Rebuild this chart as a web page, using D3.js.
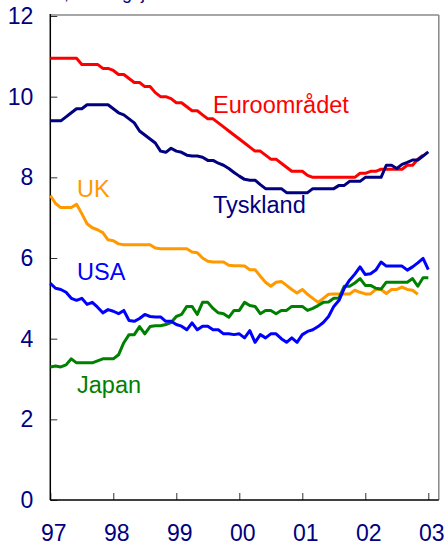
<!DOCTYPE html>
<html>
<head>
<meta charset="utf-8">
<script src="https://cdn.jsdelivr.net/npm/d3@7"></script>
<style>
  body { margin: 0; background: #fff; }
  svg { font-family: "Liberation Sans", Arial, sans-serif; }
  .axis text { fill: #000080; font-size: 23px; }
  .axis line { stroke: #333; }
  .label { font-size: 23.5px; }
</style>
</head>
<body>
<svg id="chart" width="445" height="545"></svg>
<script>
// monthly unemployment, procent, jan 1997 -> early 2003 (index = month since jan 97)
const yearTicks = ["97", "98", "99", "00", "01", "02", "03"];
const yTicks = [0, 2, 4, 6, 8, 10, 12];

const euro = [10.95, 10.95, 10.95, 10.95, 10.95, 10.95, 10.8, 10.8, 10.8, 10.8, 10.7, 10.7,
  10.65, 10.55, 10.55, 10.45, 10.35, 10.35, 10.25, 10.25, 10.1, 10.0, 10.0, 9.95,
  9.85, 9.85, 9.75, 9.65, 9.65, 9.55, 9.45, 9.45, 9.35, 9.25, 9.15, 9.05,
  8.95, 8.85, 8.75, 8.65, 8.65, 8.55, 8.45, 8.45, 8.35, 8.25, 8.15, 8.15,
  8.15, 8.05, 8.0, 8.0, 8.0, 8.0, 8.0, 8.0, 8.0, 8.0, 8.0, 8.1,
  8.1, 8.15, 8.15, 8.2, 8.2, 8.2, 8.2, 8.2, 8.3, 8.3, 8.45, 8.55];

const tyskland = [9.4, 9.4, 9.4, 9.5, 9.6, 9.7, 9.7, 9.8, 9.8, 9.8, 9.8, 9.8,
  9.7, 9.6, 9.55, 9.45, 9.35, 9.15, 9.05, 8.95, 8.85, 8.65, 8.62, 8.72,
  8.65, 8.62, 8.55, 8.53, 8.53, 8.5, 8.42, 8.42, 8.35, 8.3, 8.22, 8.12,
  8.03, 7.95, 7.93, 7.93, 7.82, 7.72, 7.72, 7.72, 7.72, 7.62, 7.62, 7.62,
  7.62, 7.62, 7.72, 7.72, 7.72, 7.72, 7.72, 7.8, 7.8, 7.9, 7.9, 7.9,
  8.0, 8.0, 8.0, 8.0, 8.3, 8.3, 8.22, 8.32, 8.37, 8.43, 8.43, 8.53, 8.63];

const uk = [7.55, 7.35, 7.25, 7.25, 7.25, 7.33, 7.1, 6.85, 6.75, 6.7, 6.63, 6.45,
  6.43, 6.35, 6.33, 6.33, 6.33, 6.33, 6.33, 6.33, 6.25, 6.23, 6.23, 6.23,
  6.23, 6.23, 6.23, 6.15, 6.13, 6.0, 5.92, 5.9, 5.9, 5.9, 5.82, 5.81,
  5.81, 5.8, 5.71, 5.71, 5.55, 5.4, 5.3, 5.4, 5.42, 5.32, 5.22, 5.13,
  5.22, 5.1, 5.0, 4.9, 5.0, 5.1, 5.11, 5.11, 5.11, 5.11, 5.2, 5.15,
  5.11, 5.11, 5.22, 5.22, 5.12, 5.22, 5.22, 5.28, 5.22, 5.2, 5.1];

const usa = [5.37, 5.25, 5.22, 5.15, 5.0, 4.95, 5.0, 4.85, 4.9, 4.78, 4.64, 4.72,
  4.68, 4.62, 4.7, 4.45, 4.43, 4.5, 4.6, 4.55, 4.54, 4.54, 4.43, 4.43,
  4.35, 4.31, 4.22, 4.39, 4.22, 4.31, 4.31, 4.22, 4.22, 4.12, 4.12, 4.1,
  4.12, 4.02, 4.2, 3.91, 4.1, 4.02, 4.12, 4.12, 4.0, 3.91, 4.02, 3.91,
  4.1, 4.18, 4.22, 4.3, 4.4, 4.55, 4.8, 4.95, 5.25, 5.45, 5.6, 5.78,
  5.59, 5.61, 5.7, 5.9, 5.8, 5.8, 5.8, 5.8, 5.7, 5.78, 5.88, 5.99, 5.71];

const japan = [3.3, 3.32, 3.3, 3.35, 3.5, 3.4, 3.4, 3.4, 3.4, 3.45, 3.5, 3.5,
  3.5, 3.6, 3.9, 4.1, 4.1, 4.3, 4.12, 4.3, 4.32, 4.32, 4.35, 4.4,
  4.55, 4.6, 4.8, 4.8, 4.6, 4.9, 4.9, 4.75, 4.64, 4.62, 4.53, 4.7,
  4.7, 4.9, 4.82, 4.8, 4.62, 4.7, 4.7, 4.62, 4.7, 4.7, 4.8, 4.8,
  4.8, 4.7, 4.75, 4.82, 4.9, 4.91, 5.0, 5.01, 5.3, 5.3, 5.38, 5.49,
  5.32, 5.32, 5.25, 5.23, 5.4, 5.4, 5.4, 5.4, 5.4, 5.49, 5.3, 5.51, 5.51];

const series = [
  { name: "UK", values: uk, color: "#ff9900", lx: 77, ly: 197 },
  { name: "Japan", values: japan, color: "#008000", lx: 77, ly: 393 },
  { name: "USA", values: usa, color: "#0000ff", lx: 77, ly: 280 },
  { name: "Euroområdet", values: euro, color: "#ff0000", lx: 213, ly: 113 },
  { name: "Tyskland", values: tyskland, color: "#000080", lx: 213, ly: 213 }
];

const dimension = { left: 50.3, right: 438.8, top: 16, bottom: 500 };

const x = d3.scaleLinear().domain([0, 74]).range([dimension.left, dimension.right]);
const y = d3.scaleLinear().domain([0, 12]).range([dimension.bottom, dimension.top]);

const svg = d3.select("#chart");

// unit title, cut off at the top edge like in the source
svg.append("text")
    .attr("x", 2)
    .attr("y", -1)
    .attr("fill", "#000080")
    .attr("font-size", 18)
    .text("Procent, säsongsjusterat");

// frame: grey top/right, black left/bottom
svg.append("line")
    .attr("x1", dimension.left).attr("x2", dimension.right)
    .attr("y1", dimension.top - 1).attr("y2", dimension.top - 1)
    .attr("stroke", "#888").attr("stroke-width", 1.5);
svg.append("line")
    .attr("x1", dimension.right).attr("x2", dimension.right)
    .attr("y1", dimension.top - 1).attr("y2", dimension.bottom)
    .attr("stroke", "#888").attr("stroke-width", 1.5);

// axes
const yAxis = d3.axisLeft(y)
    .tickValues(yTicks)
    .tickSizeInner(-7)
    .tickSizeOuter(0)
    .tickPadding(17)
    .tickFormat(d3.format("d"));

svg.append("g")
    .attr("class", "axis y")
    .attr("transform", `translate(${dimension.left},0)`)
    .call(yAxis)
    .call(g => g.select(".domain").remove());

const xAxis = d3.axisBottom(x)
    .tickValues(yearTicks.map((d, i) => i * 12))
    .tickSizeInner(-7)
    .tickSizeOuter(0)
    .tickPadding(25)
    .tickFormat((d, i) => yearTicks[i]);

svg.append("g")
    .attr("class", "axis x")
    .attr("transform", `translate(0,${dimension.bottom})`)
    .call(xAxis)
    .call(g => g.select(".domain").remove())
    .selectAll("text")
    .attr("dx", 3);

svg.append("line")
    .attr("x1", dimension.left).attr("x2", dimension.left)
    .attr("y1", dimension.top - 2).attr("y2", dimension.bottom)
    .attr("stroke", "#000").attr("stroke-width", 1.5);
svg.append("line")
    .attr("x1", dimension.left).attr("x2", dimension.right)
    .attr("y1", dimension.bottom).attr("y2", dimension.bottom)
    .attr("stroke", "#000").attr("stroke-width", 1.5);

// lines
const line = d3.line()
    .x((d, i) => x(i))
    .y(d => y(d));

svg.selectAll(".series")
    .data(series)
    .enter()
    .append("path")
    .attr("class", "series")
    .attr("fill", "none")
    .attr("stroke", d => d.color)
    .attr("stroke-width", 3)
    .attr("stroke-linejoin", "round")
    .attr("d", d => line(d.values));

svg.selectAll(".label")
    .data(series)
    .enter()
    .append("text")
    .attr("class", "label")
    .attr("x", d => d.lx)
    .attr("y", d => d.ly)
    .attr("fill", d => d.color)
    .text(d => d.name);
</script>
</body>
</html>
